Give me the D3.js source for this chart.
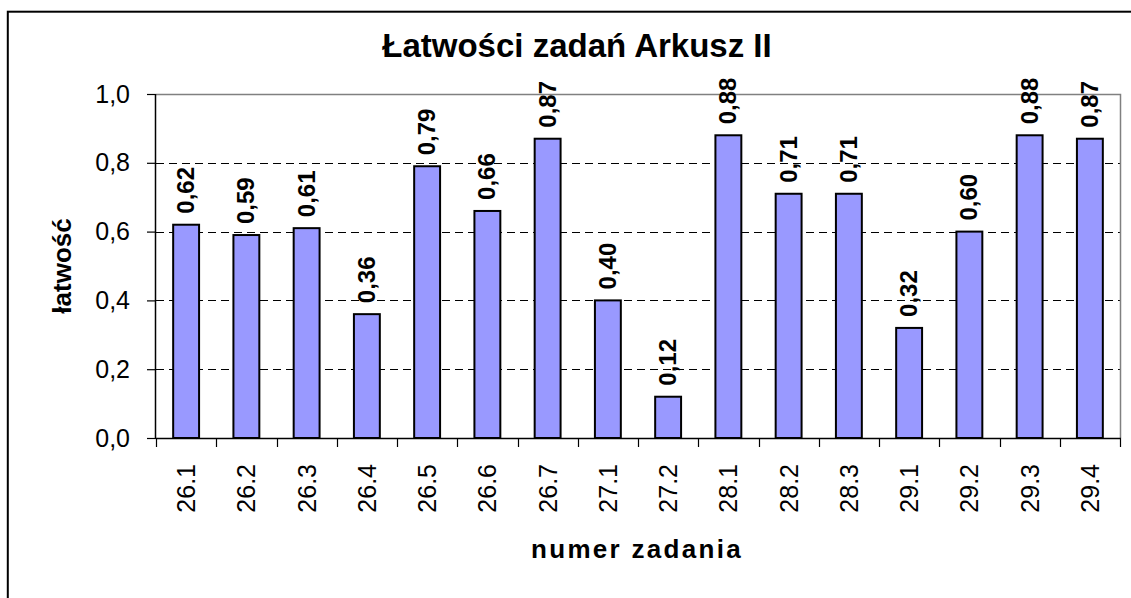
<!DOCTYPE html>
<html>
<head>
<meta charset="utf-8">
<script src="https://cdn.jsdelivr.net/npm/d3@7"></script>
<style>
  html, body { margin: 0; padding: 0; background: #fff; }
  svg { display: block; font-family: "Liberation Sans", Arial, sans-serif; }
</style>
</head>
<body>
<div id="chart"></div>
<script>
const zadania = ["26.1", "26.2", "26.3", "26.4", "26.5", "26.6", "26.7", "27.1", "27.2", "28.1", "28.2", "28.3", "29.1", "29.2", "29.3", "29.4"];
const latwosc = [0.62, 0.59, 0.61, 0.36, 0.79, 0.66, 0.87, 0.40, 0.12, 0.88, 0.71, 0.71, 0.32, 0.60, 0.88, 0.87];
const yTicks = [0, 0.2, 0.4, 0.6, 0.8, 1.0];

const width = 1131, height = 598;
const plot = { left: 156, right: 1120, top: 94, bottom: 438 };
const fmt = v => v.toFixed(1).replace(".", ",");
const fmt2 = v => v.toFixed(2).replace(".", ",");

const svg = d3.select("#chart").append("svg").attr("width", width).attr("height", height);

// outer chart border (cut at the right and bottom edge)
svg.append("rect").attr("x", 7.8).attr("y", 11.7).attr("width", 1200).attr("height", 700)
  .attr("fill", "none").attr("stroke", "#000").attr("stroke-width", 2);

const x = d3.scaleBand().domain(zadania).range([plot.left, plot.right]).paddingInner(0.57).paddingOuter(0.285);
const y = d3.scaleLinear().domain([0, 1]).range([plot.bottom, plot.top]);

// gridlines
svg.append("g").selectAll("line").data(yTicks.filter(t => t > 0 && t < 1)).join("line")
  .attr("x1", plot.left).attr("x2", plot.right)
  .attr("y1", d => Math.round(y(d)) + 0.5).attr("y2", d => Math.round(y(d)) + 0.5)
  .attr("stroke", "#000").attr("stroke-width", 1).attr("stroke-dasharray", "8,5");

// plot area top / right border
svg.append("path")
  .attr("d", `M${plot.left},${plot.top + 0.5}H${plot.right + 0.5}V${plot.bottom}`)
  .attr("fill", "none").attr("stroke", "#808080").attr("stroke-width", 1.5);

// bars
svg.append("g").selectAll("rect").data(latwosc).join("rect")
  .attr("x", (d, i) => x(zadania[i]))
  .attr("y", d => y(d))
  .attr("width", x.bandwidth())
  .attr("height", d => y(0) - y(d))
  .attr("fill", "#9999FF").attr("stroke", "#000").attr("stroke-width", 2);

// value labels
svg.append("g").selectAll("text").data(latwosc).join("text")
  .attr("transform", (d, i) => `translate(${x(zadania[i]) + x.bandwidth() / 2 + 8},${y(d) - 11}) rotate(-90)`)
  .attr("font-size", 24).attr("font-weight", "bold").attr("fill", "#000")
  .text(d => fmt2(d));

// y axis
const yAxis = d3.axisLeft(y).tickValues(yTicks).tickFormat(fmt).tickSize(9).tickPadding(17);
const gy = svg.append("g").attr("transform", `translate(${plot.left},0)`).call(yAxis);
gy.select(".domain").attr("stroke", "#000").attr("stroke-width", 1.5).attr("d", `M-0.5,${plot.top}V${plot.bottom}`);
gy.selectAll(".tick line").attr("stroke", "#000").attr("stroke-width", 1.2);
gy.selectAll(".tick text").attr("font-size", 25).attr("font-family", "Liberation Sans, Arial, sans-serif").attr("fill", "#000");

// x axis
const gx = svg.append("g").attr("transform", `translate(0,${plot.bottom})`);
gx.append("line").attr("x1", plot.left).attr("x2", plot.right + 1).attr("y1", 0.5).attr("y2", 0.5)
  .attr("stroke", "#000").attr("stroke-width", 1.5);
const edges = zadania.map(z => x(z) - (x.step() - x.bandwidth()) / 2).concat([plot.right]);
gx.selectAll("line.tk").data(edges).join("line").attr("class", "tk")
  .attr("x1", d => Math.round(d) + 0.5).attr("x2", d => Math.round(d) + 0.5)
  .attr("y1", 0).attr("y2", 9).attr("stroke", "#000").attr("stroke-width", 1.2);
gx.selectAll("text").data(zadania).join("text")
  .attr("transform", d => `translate(${x(d) + x.bandwidth() / 2 + 9},26) rotate(-90)`)
  .attr("text-anchor", "end").attr("font-size", 25).attr("fill", "#000")
  .text(d => d);

// titles
svg.append("text").attr("x", 577).attr("y", 57).attr("text-anchor", "middle")
  .attr("font-size", 33).attr("font-weight", "bold").text("Łatwości zadań Arkusz II");
svg.append("text").attr("x", 637).attr("y", 558).attr("text-anchor", "middle")
  .attr("font-size", 26).attr("font-weight", "bold").attr("letter-spacing", 2.3).text("numer zadania");
svg.append("text").attr("transform", `translate(71,${(plot.top + plot.bottom) / 2}) rotate(-90)`)
  .attr("text-anchor", "middle").attr("font-size", 26).attr("font-weight", "bold").text("łatwość");
</script>
</body>
</html>
